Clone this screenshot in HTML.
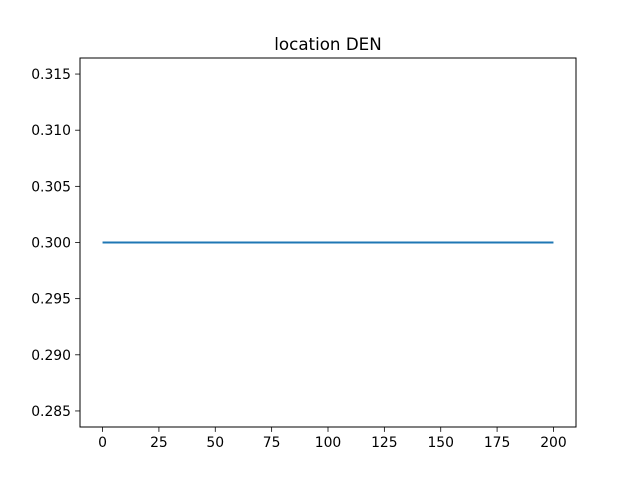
<!DOCTYPE html>
<html><head><meta charset="utf-8"><style>
body{margin:0;background:#fff}
svg{display:block;font-family:"DejaVu Sans","Liberation Sans",sans-serif}
</style></head><body>
<svg id="chart" width="640" height="480">
<rect x="0" y="0" width="640" height="480" fill="#fff"/>
<text x="328" y="50" font-size="16.7" text-anchor="middle">location DEN</text>
<g id="plot"></g>
<rect x="80" y="58" width="496" height="369" fill="none" stroke="#000" stroke-width="1"/>
</svg>
<script>
const xValues = [0, 200];
const yValues = [0.3, 0.3];
const xTicks = [0, 25, 50, 75, 100, 125, 150, 175, 200];
const yTicks = [0.285, 0.290, 0.295, 0.300, 0.305, 0.310, 0.315];
const yTickLabels = ["0.285", "0.290", "0.295", "0.300", "0.305", "0.310", "0.315"];

const L=80,R=576,T=58,B=427;
const xmin=-10,xmax=210,ymin=0.283571,ymax=0.316429;
const sx=v=>L+(v-xmin)/(xmax-xmin)*(R-L);
const sy=v=>B-(v-ymin)/(ymax-ymin)*(B-T);
const NS="http://www.w3.org/2000/svg";
const g=document.getElementById('plot');
function mk(tag,attrs){const e=document.createElementNS(NS,tag);for(const k in attrs)e.setAttribute(k,attrs[k]);g.appendChild(e);return e;}
xTicks.forEach(t=>{
  const x=sx(t);
  const l=mk('line',{x1:x,x2:x,y1:B,y2:B+4.9,stroke:'#000','stroke-width':0.8});
  
  
  const tx=mk('text',{x:x,y:B+20,'font-size':13.9,'text-anchor':'middle'});
  tx.textContent=t;
  
  
});
yTicks.forEach((t,i)=>{
  const y=sy(t);
  const l=mk('line',{x1:L-4.9,x2:L,y1:y,y2:y,stroke:'#000','stroke-width':0.8});
  
  
  const tx=mk('text',{x:L-9,y:y+5,'font-size':13.9,'text-anchor':'end'});
  tx.textContent=yTickLabels[i];
  
  
});
const pts=xValues.map((x,i)=>sx(x)+','+sy(yValues[i])).join(' ');
const pl=mk('polyline',{points:pts,fill:'none',stroke:'#1f77b4','stroke-width':2});


</script>
</body></html>
